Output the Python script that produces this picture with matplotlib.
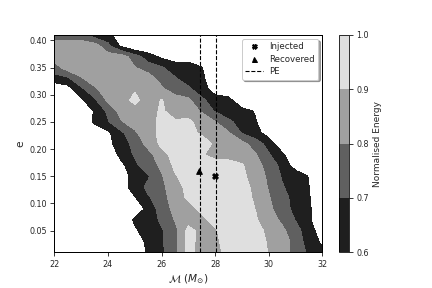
import numpy as np
import matplotlib
matplotlib.use("Agg")
import matplotlib.pyplot as plt
from matplotlib.lines import Line2D

# grid of the scan: chirp mass along x, eccentricity along y
chirp_mass = [22.0, 22.5, 23.0, 23.5, 24.0, 24.5, 25.0, 25.5, 26.0, 26.5, 27.0,
              27.5, 28.0, 28.5, 29.0, 29.5, 30.0, 30.5, 31.0, 31.5, 32.0]
ecc = [0.41, 0.39, 0.37, 0.35, 0.33, 0.31, 0.29, 0.27, 0.25, 0.23, 0.21,
       0.19, 0.17, 0.15, 0.13, 0.11, 0.09, 0.07, 0.05, 0.03, 0.01]

# normalised energy, one row per eccentricity (top row first)
e041 = [0.75, 0.75, 0.75, 0.65, 0.65, 0.5, 0.5, 0.5, 0.5, 0.5, 0.5, 0.5, 0.5, 0.5, 0.5, 0.5, 0.5, 0.5, 0.5, 0.5, 0.5]
e039 = [0.85, 0.85, 0.85, 0.85, 0.72, 0.58, 0.5, 0.5, 0.5, 0.5, 0.5, 0.5, 0.5, 0.5, 0.5, 0.5, 0.5, 0.5, 0.5, 0.5, 0.5]
e037 = [0.85, 0.85, 0.85, 0.85, 0.85, 0.85, 0.75, 0.65, 0.58, 0.55, 0.55, 0.5, 0.5, 0.5, 0.5, 0.5, 0.5, 0.5, 0.5, 0.5, 0.5]
e035 = [0.75, 0.85, 0.85, 0.85, 0.85, 0.85, 0.805, 0.75, 0.71, 0.65, 0.65, 0.605, 0.5, 0.5, 0.5, 0.5, 0.5, 0.5, 0.5, 0.5, 0.5]
e033 = [0.66, 0.68, 0.79, 0.85, 0.85, 0.85, 0.85, 0.85, 0.76, 0.71, 0.65, 0.63, 0.5, 0.5, 0.5, 0.5, 0.5, 0.5, 0.5, 0.5, 0.5]
e031 = [0.5, 0.55, 0.67, 0.78, 0.85, 0.85, 0.89, 0.85, 0.82, 0.75, 0.72, 0.65, 0.55, 0.5, 0.5, 0.5, 0.5, 0.5, 0.5, 0.5, 0.5]
e029 = [0.5, 0.5, 0.58, 0.68, 0.82, 0.85, 0.93, 0.85, 0.905, 0.85, 0.82, 0.72, 0.65, 0.64, 0.5, 0.5, 0.5, 0.5, 0.5, 0.5, 0.5]
e027 = [0.5, 0.5, 0.5, 0.61, 0.72, 0.84, 0.85, 0.87, 0.91, 0.87, 0.85, 0.79, 0.69, 0.65, 0.64, 0.59, 0.5, 0.5, 0.5, 0.5, 0.5]
e025 = [0.5, 0.5, 0.5, 0.62, 0.69, 0.79, 0.85, 0.87, 0.92, 0.91, 0.92, 0.86, 0.805, 0.72, 0.66, 0.61, 0.5, 0.5, 0.5, 0.5, 0.5]
e023 = [0.5, 0.5, 0.5, 0.52, 0.58, 0.68, 0.78, 0.87, 0.92, 0.93, 0.92, 0.89, 0.85, 0.81, 0.69, 0.64, 0.55, 0.5, 0.5, 0.5, 0.5]
e021 = [0.5, 0.5, 0.5, 0.5, 0.56, 0.67, 0.72, 0.84, 0.92, 0.95, 0.95, 0.93, 0.89, 0.85, 0.83, 0.75, 0.66, 0.52, 0.5, 0.5, 0.5]
e019 = [0.5, 0.5, 0.5, 0.5, 0.5, 0.64, 0.71, 0.76, 0.87, 0.93, 0.94, 0.91, 0.86, 0.86, 0.85, 0.81, 0.71, 0.62, 0.5, 0.5, 0.5]
e017 = [0.5, 0.5, 0.5, 0.5, 0.5, 0.57, 0.68, 0.75, 0.82, 0.92, 0.95, 0.95, 0.95, 0.94, 0.91, 0.84, 0.76, 0.67, 0.55, 0.5, 0.5]
e015 = [0.5, 0.5, 0.5, 0.5, 0.5, 0.52, 0.66, 0.69, 0.79, 0.89, 0.94, 0.95, 0.95, 0.95, 0.92, 0.86, 0.78, 0.69, 0.66, 0.595, 0.5]
e013 = [0.5, 0.5, 0.5, 0.5, 0.5, 0.55, 0.65, 0.72, 0.77, 0.87, 0.92, 0.95, 0.95, 0.95, 0.93, 0.88, 0.79, 0.71, 0.65, 0.602, 0.5]
e011 = [0.5, 0.5, 0.5, 0.5, 0.5, 0.5, 0.59, 0.69, 0.74, 0.87, 0.91, 0.95, 0.95, 0.95, 0.93, 0.89, 0.81, 0.72, 0.68, 0.61, 0.5]
e009 = [0.5, 0.5, 0.5, 0.5, 0.5, 0.5, 0.5, 0.64, 0.74, 0.83, 0.87, 0.92, 0.95, 0.95, 0.93, 0.899, 0.83, 0.73, 0.68, 0.62, 0.5]
e007 = [0.5, 0.5, 0.5, 0.5, 0.5, 0.5, 0.62, 0.64, 0.72, 0.805, 0.86, 0.88, 0.93, 0.95, 0.94, 0.91, 0.85, 0.78, 0.695, 0.62, 0.5]
e005 = [0.5, 0.5, 0.5, 0.5, 0.5, 0.5, 0.58, 0.66, 0.69, 0.76, 0.93, 0.87, 0.89, 0.95, 0.95, 0.93, 0.88, 0.82, 0.74, 0.64, 0.55]
e003 = [0.5, 0.5, 0.5, 0.5, 0.5, 0.5, 0.53, 0.63, 0.69, 0.77, 0.93, 0.87, 0.88, 0.94, 0.95, 0.94, 0.89, 0.87, 0.75, 0.66, 0.58]
e001 = [0.5, 0.5, 0.5, 0.5, 0.5, 0.5, 0.5, 0.62, 0.68, 0.76, 0.93, 0.86, 0.87, 0.93, 0.95, 0.95, 0.895, 0.85, 0.76, 0.68, 0.62]

energy = np.array([e041, e039, e037, e035, e033, e031, e029, e027, e025, e023, e021,
                   e019, e017, e015, e013, e011, e009, e007, e005, e003, e001])

levels = [0.6, 0.7, 0.8, 0.9, 1.0]

injected = (28.0, 0.15)
recovered = (27.4, 0.16)
pe_bounds = [27.45, 28.05]

plt.rcParams['font.family'] = 'DejaVu Sans'
plt.rcParams['text.color'] = '.15'
plt.rcParams['axes.labelcolor'] = '.15'
plt.rcParams['xtick.color'] = '.15'
plt.rcParams['ytick.color'] = '.15'

fig = plt.figure(figsize=(6, 4), dpi=72)
ax = fig.add_axes([0.1257, 0.124, 0.6204, 0.7545])
cax = fig.add_axes([0.785, 0.124, 0.023, 0.7545])

cs = ax.contourf(chirp_mass, ecc, energy, levels=levels, cmap='gray')

for xv in pe_bounds:
    ax.axvline(xv, color='k', ls='--', lw=1.1)
ax.scatter([injected[0]], [injected[1]], marker='X', color='k', s=32, zorder=5)
ax.scatter([recovered[0]], [recovered[1]], marker='^', color='k', s=32, zorder=5)

ax.set_xlim(22, 32)
ax.set_ylim(0.01, 0.41)
ax.set_xlabel(r'$\mathcal{M}$ ($M_{\odot}$)', fontsize=10.5)
ax.set_ylabel('e', fontsize=10.5)
ax.tick_params(labelsize=8, length=4, width=0.9)
for sp in ax.spines.values():
    sp.set_color('k')
    sp.set_linewidth(1.0)

handles = [
    Line2D([], [], marker='X', color='k', ls='none', markersize=5, label='Injected'),
    Line2D([], [], marker='^', color='k', ls='none', markersize=5, label='Recovered'),
    Line2D([], [], color='k', ls='--', lw=1.1, label='PE'),
]
ax.legend(handles=handles, loc='upper right', fontsize=8.6, shadow=True,
          fancybox=True, framealpha=1, borderaxespad=0.45, labelspacing=0.4)

cb = fig.colorbar(cs, cax=cax)
cb.set_ticks(levels)
cb.ax.tick_params(labelsize=8, length=4, width=0.9)
cb.set_label('Normalised Energy', fontsize=9)

fig.savefig('out.png', dpi=72)
